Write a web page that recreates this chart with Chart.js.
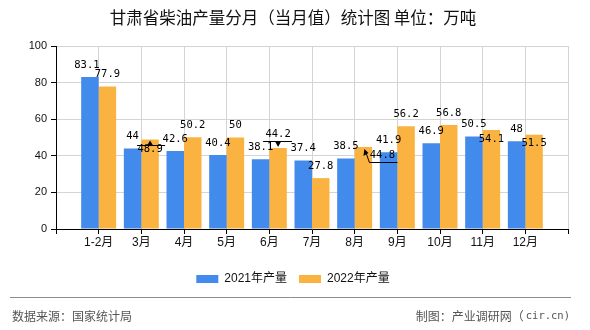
<!DOCTYPE html>
<html>
<head>
<meta charset="utf-8">
<script src="https://cdn.jsdelivr.net/npm/chart.js@4.4.1/dist/chart.umd.min.js"></script>
<style>
  html, body { margin: 0; padding: 0; background: #fff; }
  #wrap { width: 590px; height: 330px; position: relative; }
</style>
</head>
<body>
<div id="wrap"><canvas id="myChart"></canvas></div>
<script>
// data
const months = ['1-2月', '3月', '4月', '5月', '6月', '7月', '8月', '9月', '10月', '11月', '12月'];
const output2021 = [83.1, 44, 42.6, 40.4, 38.1, 37.4, 38.5, 41.9, 46.9, 50.5, 48];
const output2022 = [77.9, 48.9, 50.2, 50, 44.2, 27.8, 44.8, 56.2, 56.8, 54.1, 51.5];
const seriesNames = ['2021年产量', '2022年产量'];
const yTicks = [0, 20, 40, 60, 80, 100];

const titleText = '甘肃省柴油产量分月（当月值）统计图 单位：万吨';
const sourceText = '数据来源：国家统计局';
const makerText = '制图：产业调研网（';
const makerSite = 'cir.cn)';

// empty slot on each side, like the original
const labels = [''].concat(months, ['']);
const pad = arr => [null].concat(arr, [null]);

// label nudges for the crowded spots (dataset, index) -> px offsets
const labelShift = {
  '0-0': { dx: -3, dy: 0 },
  '1-1': { dx: 0, dy: 22, leader: 'up' },
  '1-4': { dx: 0, dy: -2, leader: 'down' },
  '1-6': { dx: 19, dy: 20.5, leader: 'hook' },
  '1-9': { dx: 0, dy: 21 },
  '1-10': { dx: 0, dy: 20.5 }
};

const valueLabels = {
  id: 'valueLabels',
  afterDatasetsDraw(chart) {
    const ctx = chart.ctx;
    ctx.save();
    ctx.font = '10.5px "DejaVu Sans Mono", monospace';
    ctx.fillStyle = '#000';
    ctx.strokeStyle = '#000';
    ctx.lineWidth = 1;
    ctx.textAlign = 'center';
    ctx.textBaseline = 'middle';
    chart.data.datasets.forEach((ds, di) => {
      chart.getDatasetMeta(di).data.forEach((bar, i) => {
        const v = ds.data[i];
        if (v === null) return;
        const s = labelShift[di + '-' + (i - 1)] || { dx: 0, dy: 0 };
        const x = bar.x + s.dx;
        const y = bar.y - 12 + s.dy;
        if (s.leader === 'up') {
          const ly = Math.round(bar.y + 5) + 0.5;
          ctx.beginPath();
          ctx.moveTo(bar.x - 13, ly); ctx.lineTo(bar.x + 15, ly); ctx.stroke();
          ctx.beginPath();
          ctx.moveTo(bar.x, bar.y + 1); ctx.lineTo(bar.x - 3, ly); ctx.lineTo(bar.x + 3, ly);
          ctx.closePath(); ctx.fill();
        } else if (s.leader === 'down') {
          const ly = Math.round(bar.y - 7) + 0.5;
          ctx.beginPath();
          ctx.moveTo(bar.x - 15, ly); ctx.lineTo(bar.x + 14, ly); ctx.stroke();
          ctx.beginPath();
          ctx.moveTo(bar.x, bar.y - 1); ctx.lineTo(bar.x - 3, ly); ctx.lineTo(bar.x + 3, ly);
          ctx.closePath(); ctx.fill();
        } else if (s.leader === 'hook') {
          const ly = Math.round(bar.y + 15) + 0.5;
          ctx.beginPath();
          ctx.moveTo(bar.x + 34, ly); ctx.lineTo(bar.x + 6, ly); ctx.lineTo(bar.x + 2, bar.y + 4);
          ctx.stroke();
          ctx.beginPath();
          ctx.moveTo(bar.x + 1, bar.y + 2); ctx.lineTo(bar.x + 0, bar.y + 9); ctx.lineTo(bar.x + 5, bar.y + 6);
          ctx.closePath(); ctx.fill();
        }
        ctx.fillText(String(v), x, y);
      });
    });
    ctx.restore();
  }
};

const footer = {
  id: 'footer',
  afterDraw(chart) {
    const ctx = chart.ctx;
    ctx.save();
    ctx.strokeStyle = '#8c8c8c';
    ctx.lineWidth = 1;
    ctx.beginPath();
    ctx.moveTo(10, 297.5); ctx.lineTo(571, 297.5);
    ctx.stroke();
    ctx.fillStyle = '#555';
    ctx.textBaseline = 'middle';
    ctx.font = '12px "Noto Sans CJK SC", sans-serif';
    ctx.textAlign = 'left';
    ctx.fillText(sourceText, 12, 316);
    // site name in a monospace face, as in the original
    ctx.textAlign = 'right';
    ctx.font = '10.5px "DejaVu Sans Mono", monospace';
    ctx.fillText(makerSite, 570, 316);
    const w = ctx.measureText(makerSite).width;
    ctx.font = '12px "Noto Sans CJK SC", sans-serif';
    ctx.fillText(makerText, 570 - w - 2, 316);
    ctx.restore();
  }
};

const myChartRef = document.getElementById('myChart').getContext('2d');

new Chart(myChartRef, {
  type: 'bar',
  data: {
    labels: labels,
    datasets: [
      {
        label: seriesNames[0],
        data: pad(output2021),
        backgroundColor: '#428bec'
      },
      {
        label: seriesNames[1],
        data: pad(output2022),
        backgroundColor: '#fab340'
      }
    ]
  },
  options: {
    responsive: true,
    maintainAspectRatio: false,
    animation: false,
    categoryPercentage: 0.82,
    barPercentage: 1,
    layout: { padding: { left: 18, right: 22, top: 0, bottom: 35 } },
    scales: {
      x: {
        offset: false,
        grid: { offset: false, color: '#d4d4d4', tickColor: '#000', tickLength: 5 },
        border: { color: '#000' },
        ticks: {
          autoSkip: false, maxRotation: 0, padding: 1, color: '#111',
          font: { size: 12, family: '"Liberation Sans", "Noto Sans CJK SC", sans-serif' }
        },
        afterFit(scale) { scale.height = 32; }
      },
      y: {
        min: 0,
        max: 100,
        afterBuildTicks(scale) { scale.ticks = yTicks.map(v => ({ value: v })); },
        grid: { color: '#d4d4d4', tickColor: '#000', tickLength: 5 },
        border: { color: '#000' },
        ticks: {
          padding: 4, color: '#111',
          font: { size: 11, family: '"Liberation Sans", sans-serif' }
        },
        afterFit(scale) { scale.width = 38; }
      }
    },
    plugins: {
      title: {
        display: true,
        text: titleText,
        color: '#111',
        font: { size: 16.5, weight: 'normal', family: '"Noto Sans CJK SC", sans-serif' },
        padding: { top: 8, bottom: 18.2 }
      },
      legend: {
        position: 'bottom',
        labels: {
          boxWidth: 22, boxHeight: 8, padding: 12, color: '#111',
          font: { size: 12, family: '"Liberation Sans", "Noto Sans CJK SC", sans-serif' }
        }
      },
      tooltip: { enabled: false }
    }
  },
  plugins: [valueLabels, footer]
});
</script>
</body>
</html>
